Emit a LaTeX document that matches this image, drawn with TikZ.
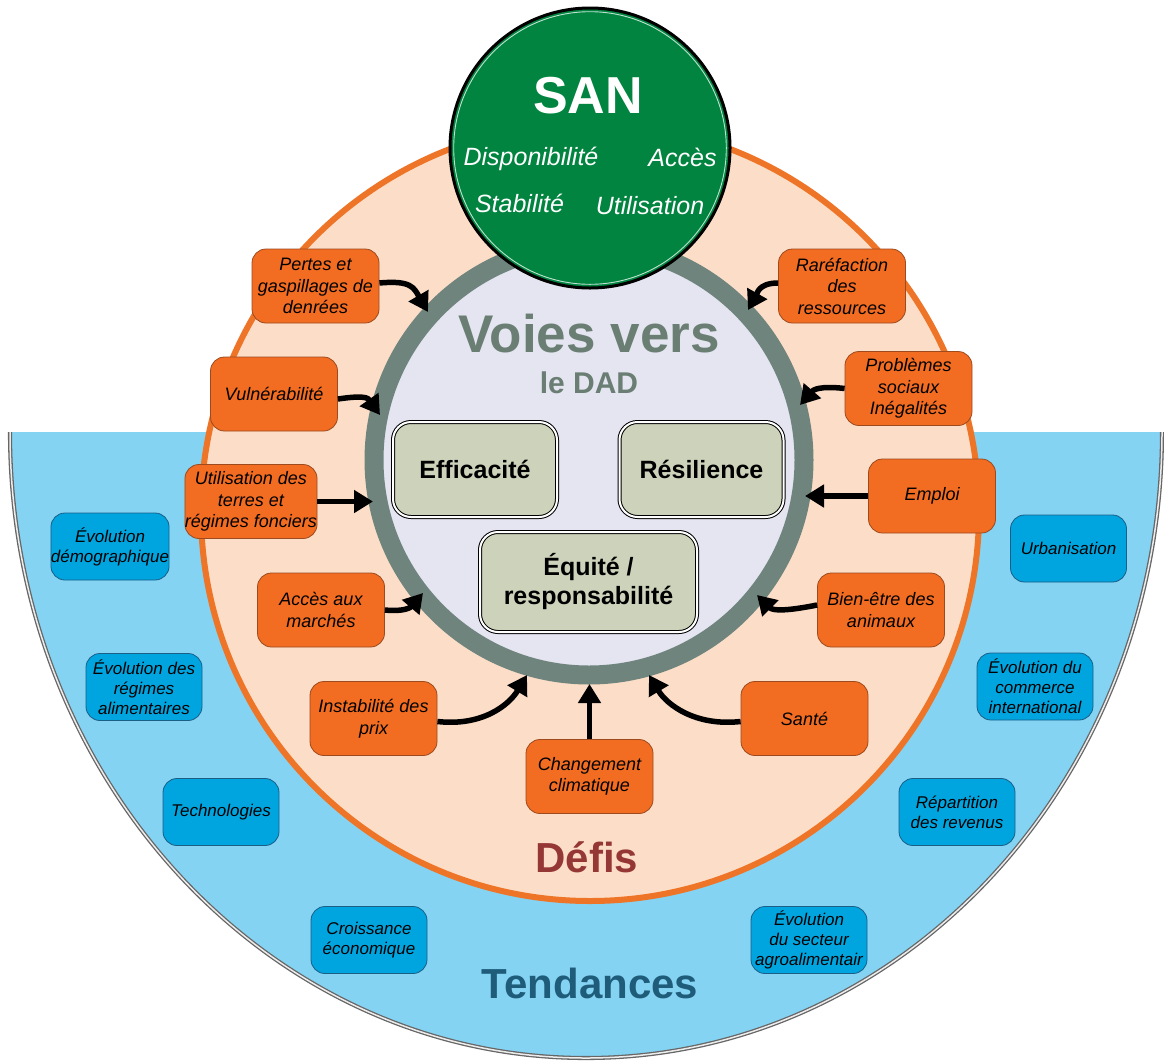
\documentclass[tikz,border=0pt]{standalone}
\usepackage{fontspec}
\setmainfont{Liberation Sans}
\usetikzlibrary{arrows.meta}
\definecolor{bluebg}{HTML}{84D3F3}
\definecolor{bbfill}{HTML}{00A5E0}
\definecolor{bbdr}{HTML}{1B5E86}
\definecolor{peach}{HTML}{FCDEC8}
\definecolor{orangeline}{HTML}{EE7427}
\definecolor{obfill}{HTML}{F26C22}
\definecolor{obdr}{HTML}{9C4A1E}
\definecolor{ringc}{HTML}{6F847D}
\definecolor{lav}{HTML}{E4E5F0}
\definecolor{sangreen}{HTML}{00843F}
\definecolor{sage}{HTML}{CDD3BA}
\definecolor{voiesc}{HTML}{6A7E73}
\definecolor{defisc}{HTML}{953735}
\definecolor{tendc}{HTML}{1F5C7A}
\begin{document}
\begin{tikzpicture}[x=1pt,y=-1pt,
  obox/.style={draw=obdr, fill=obfill, rounded corners=14pt, minimum width=127pt, minimum height=74pt, inner sep=0pt, align=center, font=\fontsize{18}{21.5}\selectfont\itshape, line width=0.8pt},
  bbox/.style={draw=bbdr, fill=bbfill, rounded corners=14pt, minimum width=116pt, minimum height=67pt, inner sep=0pt, align=center, font=\fontsize{17}{20}\selectfont\itshape, line width=0.8pt},
  ibox/.style={draw=black, double=white, double distance=2pt, line width=1pt, fill=sage, rounded corners=18pt, align=center, font=\fontsize{25}{29}\selectfont\bfseries, inner sep=0pt},
  arr/.style={line width=5.5pt, -{Triangle[length=19pt,width=22pt]}},
  santxt/.style={anchor=base, text=white, font=\fontsize{25}{30}\selectfont\itshape},
]
\useasboundingbox (0,0) rectangle (1164,1061);
% Tendances background
\begin{scope}
\clip (0,432) rectangle (1164,1061);
\fill[bluebg] (586,432) ellipse[x radius=576pt, y radius=626pt];
\draw[line width=1.3pt, draw=gray!80!black, double=white!85!gray, double distance=1.5pt] (586,432) ellipse[x radius=576pt, y radius=626pt];
\end{scope}
% Defis circle
\draw[fill=peach, draw=orangeline, line width=6pt] (590,512) circle[radius=389pt];
% ring
\draw[fill=lav, draw=ringc, line width=19pt] (589,460) circle[radius=215pt];
\node[anchor=base, text=voiesc, font=\fontsize{53}{60}\selectfont\bfseries] (voies) at (589,352) {Voies vers};
\node[anchor=base, text=voiesc, font=\fontsize{30}{36}\selectfont\bfseries] (dad) at (589,393) {le DAD};
% inner boxes
\node[ibox, minimum width=164pt, minimum height=95pt] (eff) at (475,469.5) {Efficacité};
\node[ibox, minimum width=164pt, minimum height=95pt] (res) at (701.5,469.5) {Résilience};
\node[ibox, minimum width=217pt, minimum height=100pt] (equ) at (588.5,582) {Équité /\\responsabilité};
% SAN circle
\fill[sangreen] (590,148) circle[radius=140pt];
\draw[black, line width=3pt] (590,148) circle[radius=140pt];
\draw[white!75!sangreen, line width=0.9pt] (590,148) circle[radius=136.3pt];
\node[anchor=base, text=white, font=\fontsize{52}{60}\selectfont\bfseries] (san) at (588,113) {SAN};
\node[santxt] (dispo) at (531,165) {Disponibilité};
\node[santxt] (accs) at (682.5,166) {Accès};
\node[santxt] (stab) at (519.5,212) {Stabilité};
\node[santxt] (utilis) at (650,214) {Utilisation};
% labels
\node[anchor=base, text=defisc, font=\fontsize{42}{50}\selectfont\bfseries] (defis) at (587,872) {Défis};
\node[anchor=base, text=tendc, font=\fontsize{42}{50}\selectfont\bfseries] (tend) at (590,998) {Tendances};
% blue boxes
\node[bbox] (demo) at (110,546.5) {Évolution\\démographique};
\node[bbox] (regimes) at (144,687) {Évolution des\\régimes\\alimentaires};
\node[bbox] (techno) at (221,812) {Technologies};
\node[bbox] (croiss) at (369,940) {Croissance\\économique};
\node[bbox] (urban) at (1068.5,548.5) {Urbanisation};
\node[bbox] (commerce) at (1035,686.5) {Évolution du\\commerce\\international};
\node[bbox] (repart) at (957,812) {Répartition\\des revenus};
\node[bbox] (agro) at (809,940) {Évolution\\du secteur\\agroalimentair};
% orange boxes
\node[obox] (pertes) at (315.5,286) {Pertes et\\gaspillages de\\denrées};
\node[obox] (vuln) at (274,394) {Vulnérabilité};
\node[obox] (util) at (251,501.5) {Utilisation des\\terres et\\régimes fonciers};
\node[obox] (acces) at (321,610) {Accès aux\\marchés};
\node[obox] (raref) at (842,286) {Raréfaction\\des\\ressources};
\node[obox] (probl) at (908.5,388.5) {Problèmes\\sociaux\\Inégalités};
\node[obox] (emploi) at (932,496) {Emploi};
\node[obox] (bien) at (881,610) {Bien-être des\\animaux};
\node[obox] (instab) at (373.5,718.5) {Instabilité des\\prix};
\node[obox] (climat) at (589.5,776.5) {Changement\\climatique};
\node[obox] (sante) at (804.5,718.5) {Santé};
% arrow tips
\coordinate (t1) at (428,312);
\coordinate (t2) at (380,415);
\coordinate (t3) at (373,501.5);
\coordinate (t4) at (423,593);
\coordinate (t5) at (748,310);
\coordinate (t6) at (800,405);
\coordinate (t7) at (805,496);
\coordinate (t8) at (757,595);
\coordinate (t9) at (527,675);
\coordinate (t10) at (589.5,684);
\coordinate (t11) at (649,675);
% arrows
\draw[arr] ([yshift=3pt]pertes.east) .. controls +(32,-3) and +(-14,-24) .. (t1);
\draw[arr] ([yshift=-5pt]vuln.east) .. controls +(27,-4) and +(-12,-17) .. (t2);
\draw[arr] (util.east) -- (t3);
\draw[arr] (acces.east) .. controls +(20,2) and +(-12,14) .. (t4);
\draw[arr] ([yshift=3pt]raref.west) .. controls +(-20,0) and +(9,-16) .. (t5);
\draw[arr] (probl.west) .. controls +(-25,-3) and +(13,-15) .. (t6);
\draw[arr] (emploi.west) -- (t7);
\draw[arr] ([yshift=5pt]bien.west) .. controls +(-30,6) and +(16,16) .. (t8);
\draw[arr] ([yshift=-3pt]instab.east) .. controls +(45,5) and +(-18,30) .. (t9);
\draw[arr] (climat.north) -- (t10);
\draw[arr] ([yshift=-3pt]sante.west) .. controls +(-45,5) and +(18,30) .. (t11);
\end{tikzpicture}
\end{document}
